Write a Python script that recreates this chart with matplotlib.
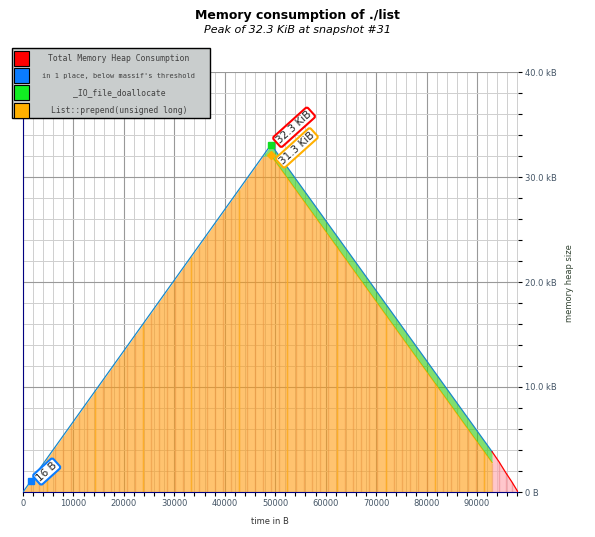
import numpy as np
import matplotlib
matplotlib.use('Agg')
import matplotlib.pyplot as plt
from matplotlib.patches import Rectangle
from matplotlib.ticker import MultipleLocator, FuncFormatter

W, H = 595, 537

# massif snapshots (time in B) with detailed breakdown
snap_time = [0, 1580, 3170, 4750, 6340, 7920, 9510, 11090, 12680, 14260, 15850,
             17430, 19020, 20600, 22190, 23770, 25360, 26940, 28530, 30110, 31700,
             33280, 34870, 36450, 38040, 39620, 41210, 42790, 44380, 45960, 47550,
             49170,
             50793, 52417, 54040, 55664, 57287, 58911, 60534, 62158, 63781, 65405,
             67028, 68652, 70275, 71899, 73522, 75146, 76769, 78393, 80016, 81640,
             83263, 84887, 86510, 88134, 89757, 91381, 93000]
prepend = [0, 1047, 2116, 3179, 4249, 5312, 6381, 7444, 8514, 9576, 10646,
           11709, 12778, 13841, 14911, 15973, 17043, 18106, 19175, 20238, 21308,
           22370, 23440, 24503, 25572, 26635, 27705, 28768, 29837, 30900, 31969,
           32051,
           30968, 29884, 28801, 27717, 26634, 25550, 24467, 23383, 22300, 21216,
           20133, 19049, 17966, 16882, 15799, 14715, 13632, 12548, 11465, 10381,
           9298, 8214, 7131, 6047, 4964, 3880, 2800]
io_alloc = [0] * 31 + [1024] * 28
below_thr = [0] + [16] * 58

# only total known after the last detailed snapshot
tail_time = [93000, 94400, 95700, 96900, 98140]
tail_total = [3840, 2860, 1850, 980, 0]

peak_idx = 31
small_idx = 1
legend_names = ['Total Memory Heap Consumption', "in 1 place, below massif's threshold",
                '_IO_file_doallocate', 'List::prepend(unsigned long)']
legend_cols = ['#ff0000', '#0a7cff', '#11ee22', '#ffb000']

t = np.array(snap_time)
p = np.array(prepend)
g = p + np.array(io_alloc)
top = g + np.array(below_thr)

fig = plt.figure(figsize=(W / 100, H / 100), dpi=100)
ax = fig.add_axes([23 / W, 45 / H, 495 / W, 420 / H])

# grid
ax.xaxis.set_major_locator(MultipleLocator(10000))
ax.xaxis.set_minor_locator(MultipleLocator(2000))
ax.yaxis.set_major_locator(MultipleLocator(10000))
ax.yaxis.set_minor_locator(MultipleLocator(2000))
ax.grid(which='minor', color='#cfcfcf', lw=0.7, zorder=0)
ax.grid(which='major', color='#999999', lw=0.8, zorder=0)
ax.set_axisbelow(True)

# stacked areas
ax.fill_between(t, 0, p, color='#ff9b10', alpha=0.6, lw=0, zorder=2)
ax.vlines(t[1:], 0, p[1:], color='#e89440', lw=1.0, alpha=0.55, zorder=2)
ax.vlines(t[3::6], 0, p[3::6], color='#ffb020', lw=1.0, alpha=0.8, zorder=2)
ax.plot(t[peak_idx:], p[peak_idx:], color='#ffb000', lw=0.8, zorder=3)
ax.fill_between(t, p, g, color='#2bcb11', alpha=0.6, lw=0, zorder=3)
ax.plot(t, top, color='#1a88c8', lw=0.9, zorder=4)

ax.fill_between(tail_time, 0, tail_total, color='#ffa3aa', alpha=0.6, lw=0, zorder=2)
ax.vlines(tail_time[1:-1], 0, tail_total[1:-1], color='#e88890', lw=1.0, alpha=0.6, zorder=2)
ax.plot(tail_time, tail_total, color='#ff0000', lw=0.9, zorder=4)

# markers + labels
ax.plot(t[small_idx], top[small_idx], 's', color='#0a7cff', ms=4, zorder=6)
ax.plot(t[peak_idx], p[peak_idx], 'D', color='#ffb000', ms=4, zorder=6)
ax.plot(t[peak_idx], top[peak_idx], 's', color='#11dd22', ms=4, zorder=6)

def tag(x, y, txt, col, dx, dy, z):
    ax.annotate(txt, (x, y), xytext=(dx, dy), textcoords='offset points',
                rotation=42, rotation_mode='anchor', ha='left', va='center',
                fontsize=7.5, color='#222222', zorder=z,
                bbox=dict(boxstyle='round,pad=0.15,rounding_size=0.2', fc='white', ec=col, lw=1.5))

tag(t[peak_idx], top[peak_idx], '32.3 KiB', '#ff0000', 5, 2, 7)
tag(t[peak_idx], p[peak_idx], '31.3 KiB', '#ffb000', 7, -5, 8)
tag(t[small_idx], top[small_idx], '16 B', '#0a7cff', 5, 1, 7)

ax.set_xlim(0, 98140)
ax.set_ylim(0, 40000)

for s in ['top', 'right']:
    ax.spines[s].set_visible(False)
ax.spines['left'].set_color('#000080')
ax.spines['bottom'].set_color('#000080')

ax.yaxis.tick_right()
ax.tick_params(which='both', direction='out', length=3, width=0.8, color='black')
ax.tick_params(which='major', labelsize=6, labelcolor='#445566', pad=2)
ax.tick_params(axis='y', which='both', left=False, right=True)
ax.yaxis.set_major_formatter(FuncFormatter(lambda v, pos: '0 B' if v == 0 else '%.1f kB' % (v / 1000)))

fig.text(270 / W, 1 - 522 / H, 'time in B', ha='center', va='center', fontsize=6, color='#333333')
fig.text(570 / W, 1 - 283 / H, 'memory heap size', ha='center', va='center', rotation=90,
         fontsize=6, color='#334433')

fig.text(297 / W, 1 - 16 / H, 'Memory consumption of ./list', ha='center', va='center',
         fontsize=9, fontweight='bold', color='black')
fig.text(297 / W, 1 - 30 / H, 'Peak of 32.3 KiB at snapshot #31', ha='center', va='center',
         fontsize=8, style='italic', color='black')

# legend box drawn in pixel coords
def px(x, y):
    return x / W, 1 - y / H

fig.patches.append(Rectangle(px(12, 118), 198 / W, 70 / H, transform=fig.transFigure,
                             fc='#c9cdcd', ec='black', lw=1, zorder=10))
for i, (name, col) in enumerate(zip(legend_names, legend_cols)):
    yc = 58.5 + i * 17.2
    fig.patches.append(Rectangle(px(14, yc + 7.5), 15 / W, 15 / H, transform=fig.transFigure,
                                 fc=col, ec='black', lw=0.8, zorder=11))
    fs = 5.0 if len(name) > 30 else 5.8
    fig.text(119 / W, 1 - yc / H, name, ha='center', va='center', fontsize=fs,
             family='DejaVu Sans Mono', color='#404040', zorder=12)

fig.savefig('out.png', dpi=100, facecolor='white')
